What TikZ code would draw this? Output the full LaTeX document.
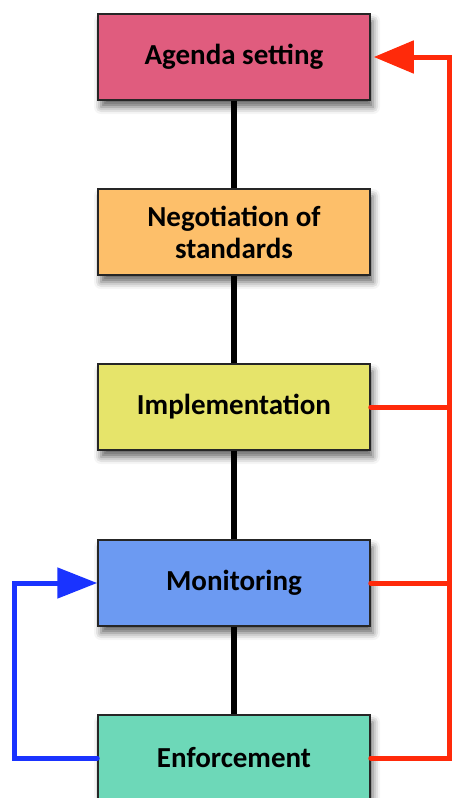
\documentclass[tikz,border=0pt]{standalone}
\usepackage{fontspec}
\setmainfont{Carlito}
\usetikzlibrary{shadows.blur,arrows.meta}
\definecolor{agendacol}{HTML}{E05C7E}
\definecolor{negotcol}{HTML}{FDBF6A}
\definecolor{implcol}{HTML}{E6E46A}
\definecolor{moncol}{HTML}{6C9AF2}
\definecolor{enfcol}{HTML}{6DD8B8}
\definecolor{feedred}{HTML}{FF2A0A}
\definecolor{feedblue}{HTML}{1A33FF}
\tikzset{
  stage/.style={draw=black!85, line width=1.5pt, minimum width=272pt,
    minimum height=86pt, align=center, inner sep=2pt,
    font=\bfseries\fontsize{29}{32}\selectfont,
    blur shadow={shadow xshift=3pt, shadow yshift=-7pt,
      shadow blur radius=7pt, shadow opacity=60}},
  chain/.style={line width=5.5pt, black},
  feedback/.style={line width=5pt, line cap=round}
}
\begin{document}
\begin{tikzpicture}[x=1pt,y=1pt]
\useasboundingbox (0,0) rectangle (455,-798);
% stages
\node[stage, fill=agendacol] (agenda) at (234,-57) {Agenda setting};
\node[stage, fill=negotcol] (negot) at (234,-232) {Negotiation of\\standards};
\node[stage, fill=implcol] (impl) at (234,-407) {Implementation};
\node[stage, fill=moncol] (mon) at (234,-583) {Monitoring};
\node[stage, fill=enfcol] (enf) at (234,-758) {Enforcement};
% black links
\draw[chain] (agenda.south) -- (negot.north);
\draw[chain] (negot.south) -- (impl.north);
\draw[chain] (impl.south) -- (mon.north);
\draw[chain] (mon.south) -- (enf.north);
% feedback loops
\coordinate (rside) at (449,-57);
\coordinate (lside) at (14,-583);
\draw[feedback, feedred] (impl.east) -- (impl.east -| rside);
\draw[feedback, feedred] (mon.east) -- (mon.east -| rside);
\draw[feedback, feedred, -{Triangle[length=40pt,width=32pt]}]
  (enf.east) -- (enf.east -| rside) |- ([xshift=3pt]agenda.east);
\draw[feedback, feedblue, -{Triangle[length=40pt,width=30pt]}]
  (enf.west) -- (enf.west -| lside) |- (mon.west);
\end{tikzpicture}
\end{document}
